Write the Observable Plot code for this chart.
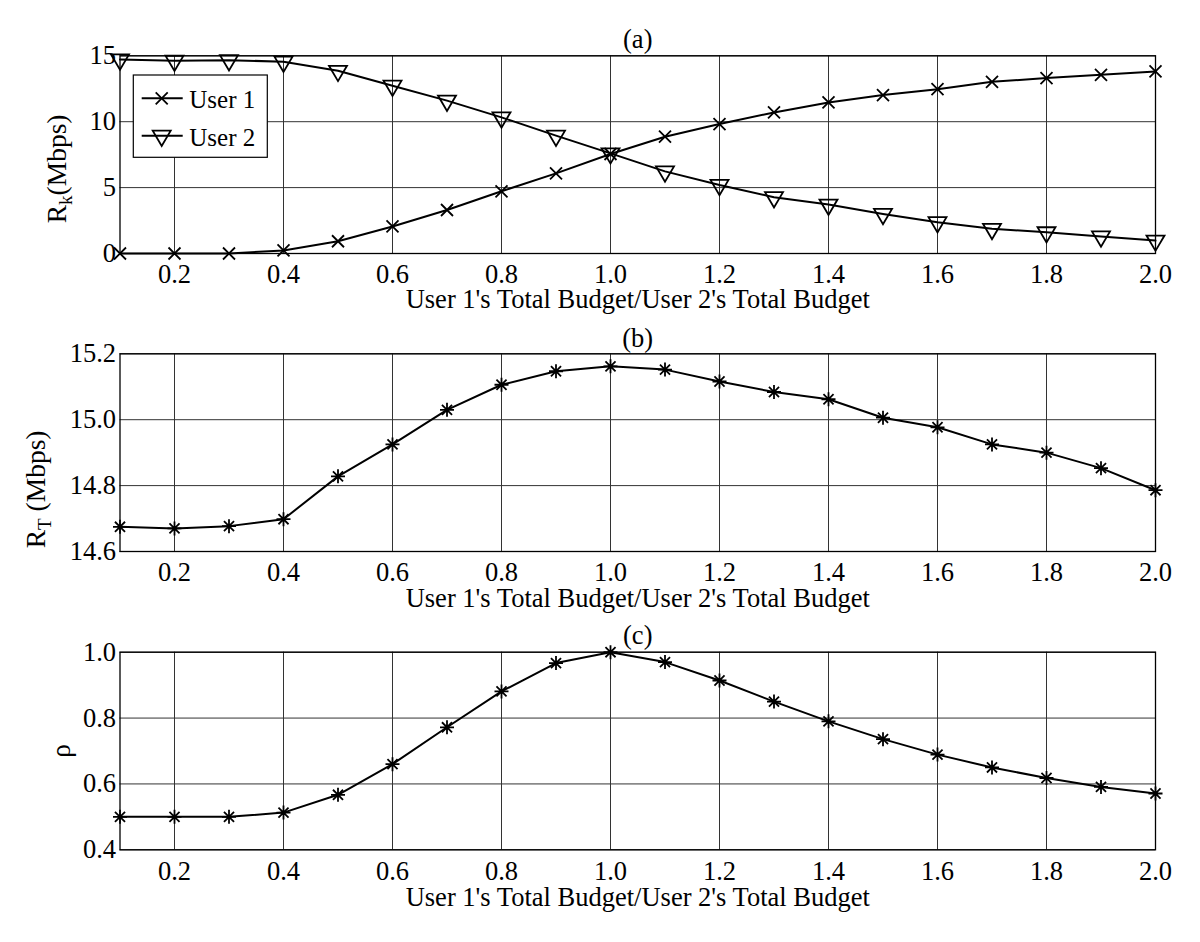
<!DOCTYPE html>
<html><head><meta charset="utf-8">
<script src="https://cdn.jsdelivr.net/npm/d3@7"></script>
<script src="https://cdn.jsdelivr.net/npm/@observablehq/plot@0.6"></script>
<style>
body{margin:0;background:#fff;}
#chart{position:relative;width:1200px;height:942px;overflow:hidden;background:#fff;}
#chart svg{position:absolute;left:0;max-width:none;}
#chart svg text, #chart svg tspan{font-family:"Liberation Serif","Times New Roman",serif !important;font-variant:normal !important;}
</style></head><body><div id="chart"></div>
<script>
// ---- data ----
const ratio = [0.1,0.2,0.3,0.4,0.5,0.6,0.7,0.8,0.9,1.0,1.1,1.2,1.3,1.4,1.5,1.6,1.7,1.8,1.9,2.0];
const user1 = [0,0,0,0.23,0.93,2.05,3.3,4.72,6.08,7.55,8.86,9.82,10.7,11.46,12.02,12.47,13.03,13.31,13.56,13.81];
const user2 = [14.72,14.62,14.67,14.55,13.86,12.73,11.6,10.33,8.94,7.6,6.23,5.2,4.27,3.71,3.0,2.37,1.87,1.61,1.29,0.98];
const totalRate = [14.675,14.670,14.677,14.698,14.828,14.925,15.030,15.106,15.147,15.162,15.152,15.116,15.084,15.062,15.006,14.977,14.925,14.900,14.853,14.786];
const rho = [0.5,0.5,0.5,0.513,0.567,0.660,0.772,0.881,0.967,1.0,0.970,0.914,0.850,0.790,0.736,0.689,0.650,0.618,0.591,0.571];
const xTicks = [0.2,0.4,0.6,0.8,1.0,1.2,1.4,1.6,1.8,2.0];
const yTicksA = [0,5,10,15];
const yTicksB = [14.6,14.8,15.0,15.2];
const yTicksC = [0.4,0.6,0.8,1.0];
const seriesNames = ["User 1","User 2"];
const panelTitles = ["(a)","(b)","(c)"];
const xLabel = "User 1's Total Budget/User 2's Total Budget";

// ---- symbols ----
const crossSym = {draw(ctx, size){const r=Math.sqrt(size/Math.PI);ctx.moveTo(-r,-r);ctx.lineTo(r,r);ctx.moveTo(-r,r);ctx.lineTo(r,-r);}};
const triDownSym = {draw(ctx, size){const r=Math.sqrt(size/Math.PI);ctx.moveTo(-r,-0.56*r);ctx.lineTo(r,-0.56*r);ctx.lineTo(0,1.14*r);ctx.closePath();}};
const starSym = {draw(ctx, size){const r=Math.sqrt(size/Math.PI);const d=r*0.72;
  ctx.moveTo(0,-r);ctx.lineTo(0,r);ctx.moveTo(-r,0);ctx.lineTo(r,0);
  ctx.moveTo(-d,-d);ctx.lineTo(d,d);ctx.moveTo(-d,d);ctx.lineTo(d,-d);}};

const FONT = "Liberation Serif, Times New Roman, serif";
const FS = 26.5;
const W = 1200;
const chart = document.getElementById("chart");

function panel({top, height, mTop, mBottom, yDomain, yTicks, yFormat, series, title, titleDy, labelDy}) {
  const marks = [
    Plot.gridX(xTicks, {stroke:"#333", strokeOpacity:1, strokeWidth:1}),
    Plot.gridY(yTicks, {stroke:"#333", strokeOpacity:1, strokeWidth:1}),
    Plot.frame({stroke:"#000", strokeWidth:1.3}),
    Plot.axisX(xTicks, {tickSize:0, tickPadding:11, tickFormat:d3.format(".1f"), label:null, fontSize:FS, fontFamily:FONT}),
    Plot.axisY(yTicks, {tickSize:0, tickPadding:4, tickFormat:yFormat, label:null, fontSize:FS, fontFamily:FONT}),
  ];
  for (const s of series) {
    const rows = ratio.map((x,i)=>({x, y:s.values[i], name:s.name}));
    marks.push(Plot.line(rows, {x:"x", y:"y", stroke:"black", strokeWidth:2}));
    marks.push(Plot.dot(rows, {x:"x", y:"y", r:s.r, symbol:s.symbol, stroke:"black", strokeWidth:1.8, fill:"none"}));
  }
  marks.push(Plot.text([title], {text:d=>d, frameAnchor:"top", lineAnchor:"bottom", dy:titleDy, fontSize:FS, fontFamily:FONT, fill:"black"}));
  marks.push(Plot.text([xLabel], {text:d=>d, frameAnchor:"bottom", lineAnchor:"bottom", dy:labelDy, fontSize:FS, fontFamily:FONT, fill:"black"}));
  const svg = Plot.plot({
    width: W, height,
    marginLeft: 119.5, marginRight: W-1155, marginTop: mTop, marginBottom: mBottom,
    x: {domain:[0.1,2.0]},
    y: {domain: yDomain},
    style: {fontFamily: FONT, fontSize: FS+"px", background:"white", color:"black", overflow:"visible"},
    marks
  });
  d3.select(svg).selectAll("g").attr("font-family", null).attr("font-variant", null);
  d3.select(svg).selectAll("text").attr("font-family", FONT).style("font-family", FONT).attr("font-variant", null);
  svg.style.top = top + "px";
  chart.appendChild(svg);
  return svg;
}

function yLabel(svg, x, y, anchor, parts) {
  const t = d3.select(svg).append("text")
    .attr("transform", `translate(${x},${y}) rotate(-90)`)
    .attr("text-anchor", anchor)
    .attr("font-family", FONT).attr("font-size", 27.5).attr("fill","black");
  for (const p of parts) {
    const ts = t.append("tspan").text(p.text);
    if (p.size) ts.attr("font-size", p.size);
    if (p.dy) ts.attr("dy", p.dy);
  }
}

const f1 = d3.format(".1f");
const svgA = panel({top:0, height:315, mTop:55.3, mBottom:62, yDomain:[0,15], yTicks:yTicksA, yFormat:d3.format("d"),
  series:[{name:seriesNames[0], values:user1, symbol:crossSym, r:6},{name:seriesNames[1], values:user2, symbol:triDownSym, r:9}],
  title:panelTitles[0], titleDy:-8, labelDy:54});
const svgB = panel({top:315, height:300, mTop:38.3, mBottom:64, yDomain:[14.6,15.2], yTicks:yTicksB, yFormat:f1,
  series:[{name:"RT", values:totalRate, symbol:starSym, r:7}], title:panelTitles[1], titleDy:-7, labelDy:55});
const svgC = panel({top:615, height:327, mTop:36.7, mBottom:92.7, yDomain:[0.4,1.0], yTicks:yTicksC, yFormat:f1,
  series:[{name:"rho", values:rho, symbol:starSym, r:7}], title:panelTitles[2], titleDy:-8.5, labelDy:56.5});

yLabel(svgA, 65.5, 223.3, "start", [{text:"R"},{text:"k", size:19, dy:6},{text:"(Mbps)", dy:-6}]);
yLabel(svgB, 45, 233.3, "start", [{text:"R"},{text:"T", size:19, dy:6},{text:" (Mbps)", dy:-6}]);
yLabel(svgC, 69.5, 136, "middle", [{text:"\u03C1"}]);

// legend in panel (a)
(function(){
  const g = d3.select(svgA).append("g");
  g.append("rect").attr("x",133.3).attr("y",75).attr("width",134).attr("height",82.3)
    .attr("fill","white").attr("stroke","black").attr("stroke-width",1.2);
  const items = [{name:seriesNames[0], sym:crossSym, r:6, y:98.3, base:107.7},{name:seriesNames[1], sym:triDownSym, r:9, y:135.7, base:146}];
  for (const it of items) {
    g.append("line").attr("x1",141.7).attr("x2",182.7).attr("y1",it.y).attr("y2",it.y).attr("stroke","black").attr("stroke-width",2);
    const p = d3.path(); it.sym.draw(p, it.r*it.r*Math.PI);
    g.append("path").attr("d", p.toString()).attr("transform",`translate(161.7,${it.y})`)
      .attr("fill","none").attr("stroke","black").attr("stroke-width",1.8);
    g.append("text").attr("x",189.3).attr("y",it.base).attr("text-anchor","start")
      .attr("font-family",FONT).attr("font-size",25).attr("fill","black").text(it.name);
  }
})();
</script></body></html>
